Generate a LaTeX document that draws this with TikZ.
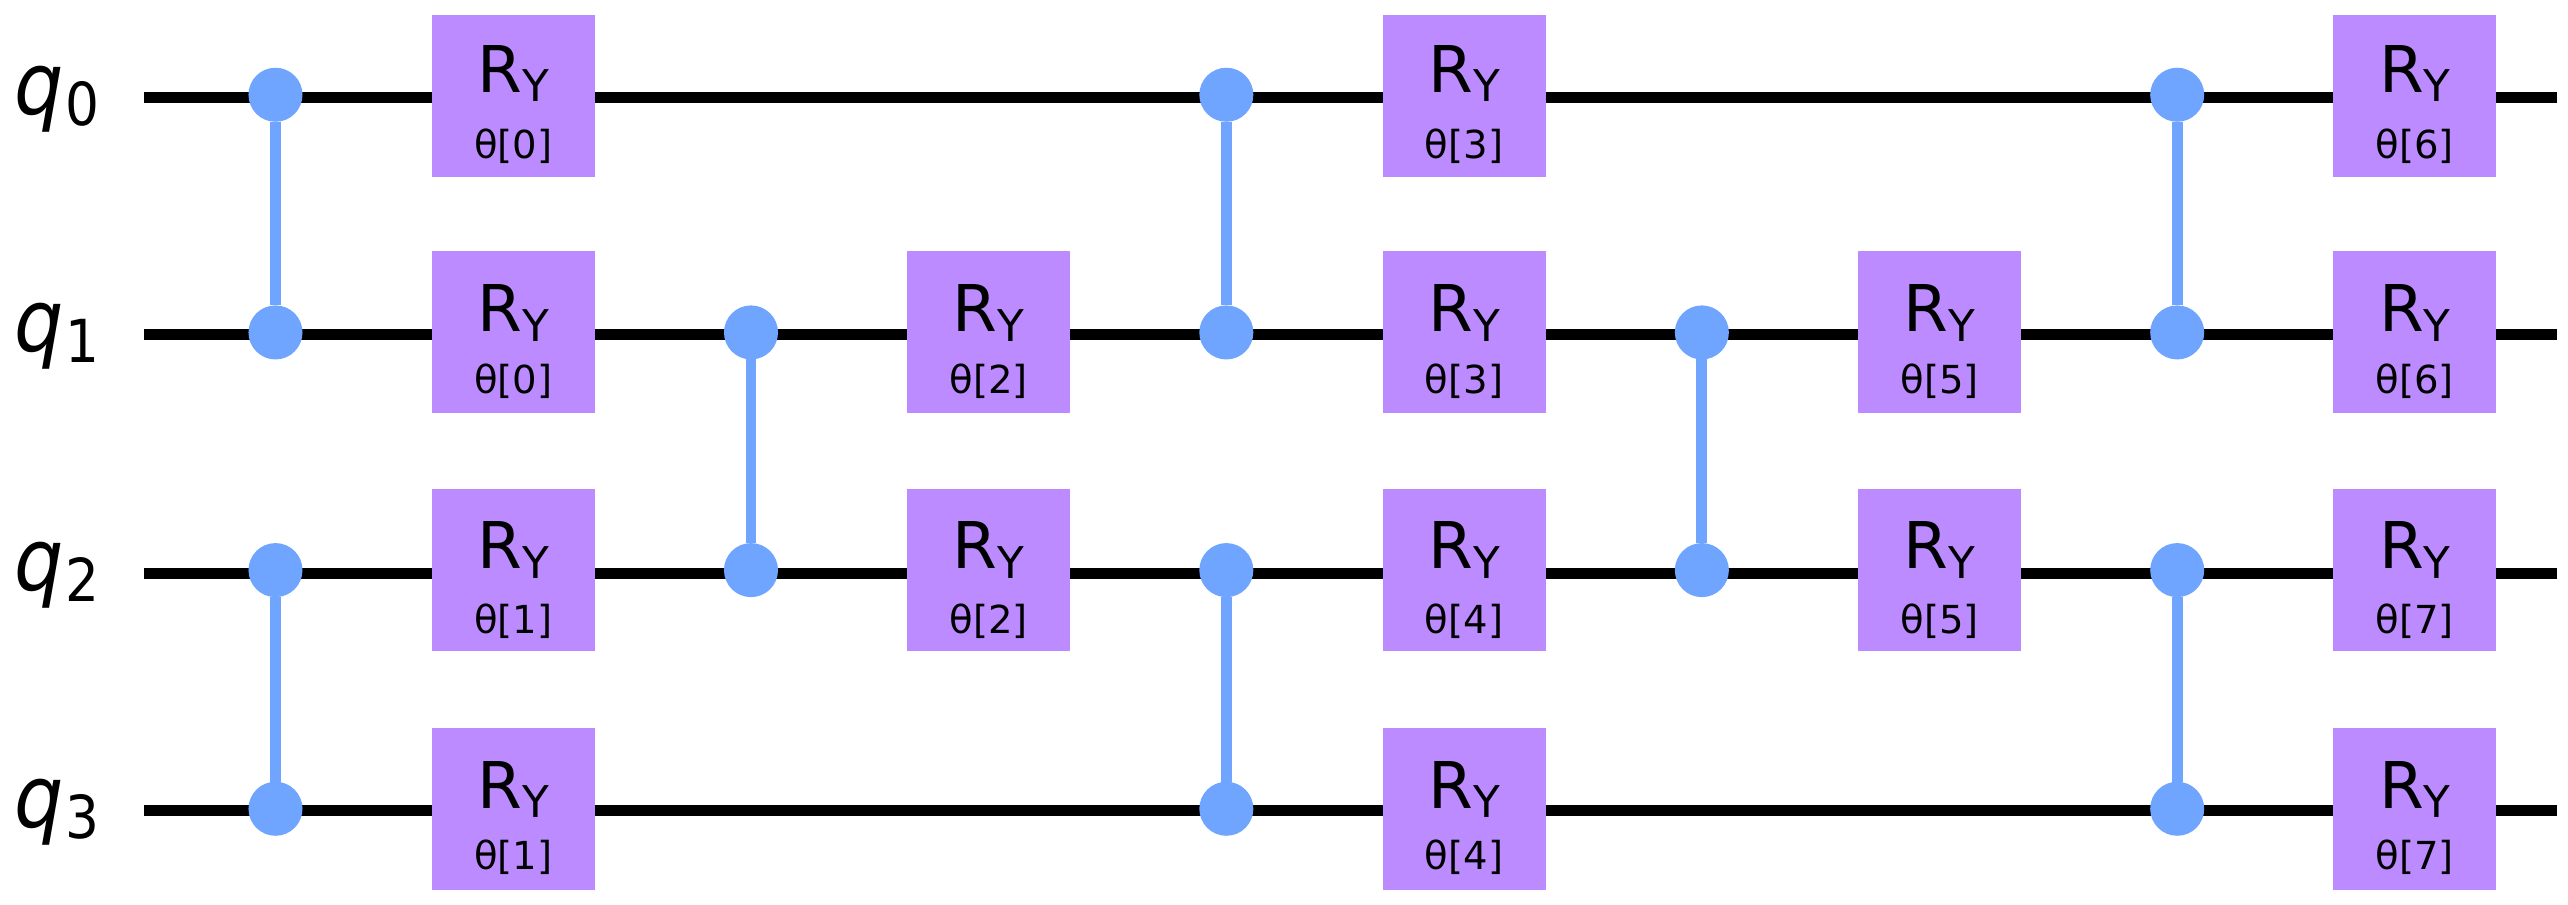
\documentclass[tikz,border=0pt]{standalone}
\usepackage{fontspec}
\setmainfont{DejaVu Sans}
\definecolor{gatep}{HTML}{BB8BFF}
\definecolor{ctrlb}{HTML}{6FA4FF}
\tikzset{
 wire/.style={line width=1.9pt,black},
 ry/.style={fill=gatep,draw=none,minimum width=0.995cm,minimum height=0.99cm,inner sep=0pt,outer sep=0pt},
 dotc/.style={circle,fill=ctrlb,draw=none,minimum size=0.33cm,inner sep=0pt,outer sep=0pt},
 czl/.style={line width=1.9pt,ctrlb},
 qlab/.style={inner sep=0pt,anchor=base west,text=black},
 rtxt/.style={font=\fontsize{11.2}{11.2}\selectfont,inner sep=0pt,anchor=base},
 ptxt/.style={font=\fontsize{6.7}{6.7}\selectfont,inner sep=0pt,anchor=base},
}
\newcommand{\rygate}[6]{%
 \node[ry] (#1) at (#2*0.01,{(552-#3)*0.01}) {};
 \node[rtxt] (#1t) at (#2*0.01,{(552-#4)*0.01}) {R\raisebox{-1.7pt}{\fontsize{7.6}{7.6}\selectfont Y}};
 \node[ptxt] (#1p) at (#2*0.01,{(552-#5)*0.01}) {θ[#6]};
}
\newcommand{\rowA}[3]{\rygate{#1}{#2}{58.3}{56}{96.5}{#3}}
\newcommand{\rowB}[3]{\rygate{#1}{#2}{202.7}{202.5}{240}{#3}}
\newcommand{\rowC}[3]{\rygate{#1}{#2}{348}{347.2}{386.5}{#3}}
\newcommand{\rowD}[3]{\rygate{#1}{#2}{493.8}{493.4}{531}{#3}}
\newcommand{\cz}[4]{%
 \node[dotc] (#1a) at (#2*0.01,{(552-#3)*0.01}) {};
 \node[dotc] (#1b) at (#2*0.01,{(552-#4)*0.01}) {};
 \draw[czl] (#1a) -- (#1b);
}
\begin{document}
\begin{tikzpicture}[x=1cm,y=1cm]
\useasboundingbox (0,0) rectangle (15.68,5.52);
\fill[white] (0,0) rectangle (15.68,5.52);
\foreach \n/\y in {0/59.2,1/204.2,2/349.8,3/494.9}{
 \node[qlab] (q\n) at (0.08,{(552-\y-10.5)*0.01}) {\scalebox{0.9}[1]{\fontsize{15}{15}\selectfont\itshape q\kern0.3pt\raisebox{-1.9pt}{\fontsize{10.3}{10.3}\selectfont\upshape\n}}};
 \coordinate (ws\n) at (0.88,{(552-\y)*0.01});
 \coordinate (we\n) at (15.61,{(552-\y)*0.01});
 \draw[wire] (ws\n) -- (we\n);
}
\cz{a}{168.3}{57.6}{202.8}
\cz{b}{168.3}{348}{493.8}
\rowA{g1}{313.5}{0}
\rowB{g2}{313.5}{0}
\rowC{g3}{313.5}{1}
\rowD{g4}{313.5}{1}
\cz{c}{458.8}{202.8}{348}
\rowB{g5}{604}{2}
\rowC{g6}{604}{2}
\cz{d}{749.2}{57.6}{202.8}
\cz{e}{749.2}{348}{493.8}
\rowA{g7}{894.4}{3}
\rowB{g8}{894.4}{3}
\rowC{g9}{894.4}{4}
\rowD{g10}{894.4}{4}
\cz{f}{1039.7}{202.8}{348}
\rowB{g11}{1184.9}{5}
\rowC{g12}{1184.9}{5}
\cz{h}{1330.1}{57.6}{202.8}
\cz{i}{1330.1}{348}{493.8}
\rowA{g13}{1475.3}{6}
\rowB{g14}{1475.3}{6}
\rowC{g15}{1475.3}{7}
\rowD{g16}{1475.3}{7}
\end{tikzpicture}
\end{document}
